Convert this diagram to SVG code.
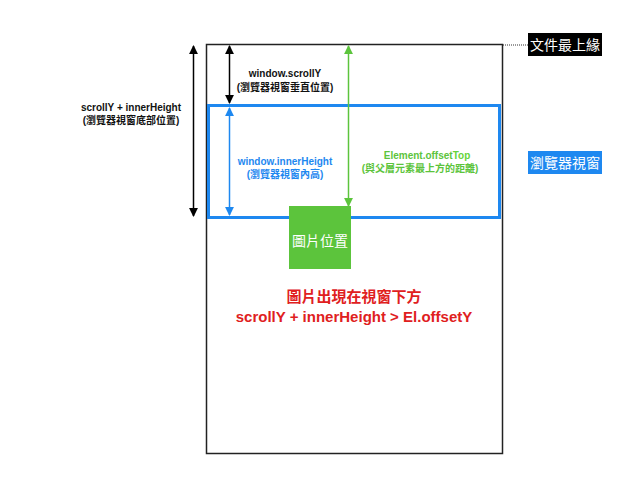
<svg xmlns="http://www.w3.org/2000/svg" width="640" height="480" viewBox="0 0 640 480">
<defs>
<marker id="ak" viewBox="0 0 10 10" refX="9" refY="5" markerWidth="6" markerHeight="6" orient="auto-start-reverse"><path d="M0,0 L10,5 L0,10 z" fill="#000"/></marker>
<marker id="ab" viewBox="0 0 10 10" refX="9" refY="5" markerWidth="6" markerHeight="6" orient="auto-start-reverse"><path d="M0,0 L10,5 L0,10 z" fill="#1e88f0"/></marker>
<marker id="ag" viewBox="0 0 10 10" refX="9" refY="5" markerWidth="6" markerHeight="6" orient="auto-start-reverse"><path d="M0,0 L10,5 L0,10 z" fill="#5cc43c"/></marker>
</defs>
<style>
text{font-family:"Liberation Sans","Noto Sans CJK TC",sans-serif;text-anchor:middle}
.b{font-weight:bold;font-size:10px}
.k{fill:#111}
.bl{fill:#1e88f0}
.g{fill:#5cc43c}
.w{fill:#fff;font-size:14px}
.r{fill:#e0201e;font-weight:bold;font-size:15px}
</style>
<rect width="640" height="480" fill="#fff"/>
<g id="document"><rect x="206.5" y="44.5" width="296" height="409" fill="none" stroke="#222" stroke-width="1.5"/></g>
<g id="viewport"><rect x="208.5" y="105.5" width="291" height="112" fill="none" stroke="#1e88f0" stroke-width="3"/></g>
<g id="connectors">
<line x1="193.5" y1="46" x2="193.5" y2="216" stroke="#000" stroke-width="1.5" marker-start="url(#ak)" marker-end="url(#ak)"/>
<line x1="229.5" y1="46" x2="229.5" y2="103" stroke="#000" stroke-width="1.5" marker-start="url(#ak)" marker-end="url(#ak)"/>
<line x1="229.5" y1="108" x2="229.5" y2="215" stroke="#1e88f0" stroke-width="1.5" marker-start="url(#ab)" marker-end="url(#ab)"/>
<line x1="348.5" y1="46" x2="348.5" y2="206" stroke="#5cc43c" stroke-width="1.5" marker-start="url(#ag)" marker-end="url(#ag)"/>
<line x1="503" y1="45" x2="528" y2="45" stroke="#333" stroke-width="1" stroke-dasharray="1,1"/>
</g>
<g id="image"><rect x="289" y="206" width="62" height="63" fill="#5cc43c"/><text class="w" x="320" y="246">圖片位置</text></g>
<g id="doc-top"><rect x="528" y="33" width="74" height="23" fill="#000"/><text class="w" x="565" y="50">文件最上緣</text></g>
<g id="viewport-label"><rect x="528" y="151" width="74" height="23" fill="#1e88f0"/><text class="w" x="565" y="168">瀏覽器視窗</text></g>
<g id="scrollY-label"><text class="b k" x="285" y="77">window.scrollY</text><text class="b k" x="285" y="91">(瀏覽器視窗垂直位置)</text></g>
<g id="bottom-label"><text class="b k" x="131" y="111">scrollY + innerHeight</text><text class="b k" x="131" y="124">(瀏覽器視窗底部位置)</text></g>
<g id="innerHeight-label"><text class="b bl" x="285" y="165">window.innerHeight</text><text class="b bl" x="285" y="178">(瀏覽器視窗內高)</text></g>
<g id="offsetTop-label"><text class="b g" x="427" y="159">Element.offset<tspan fill="#66d43a">Top</tspan></text><text class="b g" x="420" y="172">(與父層元素最上方的距離)</text></g>
<g id="condition"><text class="r" x="354" y="302">圖片出現在視窗下方</text><text class="r" x="354" y="322">scrollY + innerHeight &gt; El.offsetY</text></g>
</svg>
